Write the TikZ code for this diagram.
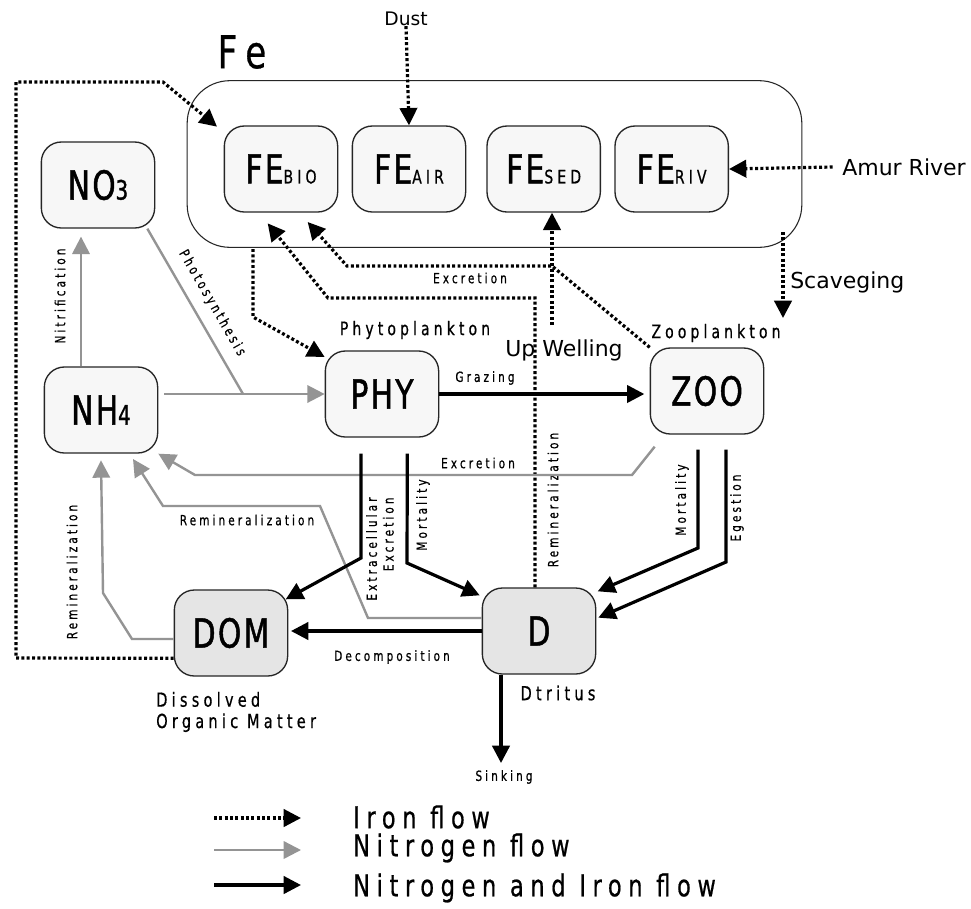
\documentclass[tikz,border=0pt]{standalone}
\usepackage{fontspec}
\setmainfont{DejaVu Sans}
\newfontfamily\labfont[FakeStretch=0.75,LetterSpace=22,FakeBold=0.6]{DejaVu Sans}
\newfontfamily\boxfont[FakeStretch=0.74,LetterSpace=6,FakeBold=1.2]{DejaVu Sans}
\usepackage{tikz}
\usetikzlibrary{arrows.meta, positioning}

\newcommand{\fsz}[2]{\fontsize{#1}{#2}\selectfont}
\newcommand{\fesub}[1]{FE{\labfont\fsz{14}{14}#1}}

\begin{document}
\begin{tikzpicture}[
    x=0.75pt, y=-0.75pt,
    every node/.style={inner sep=0pt},
    box/.style={draw=black!85, line width=1pt, rounded corners=15pt, fill=black!3,
                minimum width=85pt, minimum height=64.5pt, font=\boxfont\fsz{30}{30}},
    darkbox/.style={box, fill=black!10},
    lab/.style={font=\labfont\fsz{10.5}{12.5}},
    mid/.style={font=\labfont\fsz{14}{16}},
    leg/.style={font=\labfont\fsz{22.5}{26}, anchor=west},
    fe/.style={line width=2.4pt, dash pattern=on 2.2pt off 1.8pt, -{Triangle[length=13pt,width=13pt]}},
    ni/.style={draw=black!42, line width=1.8pt, -{Triangle[length=13pt,width=13pt]}},
    nf/.style={line width=2.4pt, -{Triangle[length=13pt,width=13pt]}}
]
\path[use as bounding box, fill=white] (0,0) rectangle (971,908);

% Iron pool
\node[draw=black!85, line width=0.8pt, rounded corners=32pt, minimum width=461pt, minimum height=125pt] (pool) at (494.5,164) {};
\node[font=\labfont\fsz{34}{34}] (felab) at (242,52) {Fe};
\node[box] (febio) at (281,169) {\fesub{BIO}};
\node[box, right=10pt of febio] (feair) {\fesub{AIR}};
\node[box, right=15pt of feair] (fesed) {\fesub{SED}};
\node[box, right=10pt of fesed] (feriv) {\fesub{RIV}};

% Nutrients and plankton
\node[box] (no3) at (98,185) {NO{\fsz{20}{20}3}};
\node[box] (nh4) at (101,410) {NH{\fsz{20}{20}4}};
\node[box] (phy) at (382,394) {PHY};
\node[box] (zoo) at (707,391) {ZOO};
\node[darkbox] (dom) at (231,633) {DOM};
\node[darkbox] (d) at (539,631) {D};

% Outer labels
\node[font=\fsz{14}{14}] (dust) at (406,19) {Dust};
\node[font=\fsz{16.5}{16.5}, anchor=west] (amur) at (842,167) {Amur River};
\node[font=\fsz{16.5}{16.5}, anchor=west] (scav) at (790,282) {Scaveging};
\node[font=\fsz{16.5}{16.5}] (upwlab) at (564,350) {Up Welling};
\node[mid] (phylab) at (415,330) {Phytoplankton};
\node[mid] (zoolab) at (716,333) {Zooplankton};
\node[font=\labfont\fsz{14.5}{16}, anchor=west, align=left] (domlab) at (156,712) {Dissolved\\Organic Matter};
\node[font=\labfont\fsz{14.5}{16}] (dlab) at (558,693) {Dtritus};

% Flow labels
\node[lab] (grazing) at (485,378) {Grazing};
\node[lab, rotate=90] (nitrif) at (60,296) {Nitrification};
\node[lab, rotate=-60] (photo) at (212,303) {Photosynthesis};
\node[lab] (exfe) at (470,278) {Excretion};
\node[lab, rotate=90] (reminfe) at (553,500) {Remineralization};
\node[lab] (exnh) at (478,463) {Excretion};
\node[lab] (remind) at (247,520) {Remineralization};
\node[lab, rotate=90] (remindom) at (72,572) {Remineralization};
\node[lab, rotate=90, align=right] (extra) at (380,549) {Extracellular\\Excretion};
\node[lab, rotate=90] (mortp) at (423,515) {Mortality};
\node[lab, rotate=90] (mortz) at (682,500) {Mortality};
\node[lab, rotate=90] (eges) at (737,508) {Egestion};
\node[lab] (decomp) at (392,657) {Decomposition};
\node[lab] (sinking) at (504,777) {Sinking};

% Free ends
\coordinate (scavtop) at (783,232);
\coordinate (scavend) at (783,318);
\coordinate (upw) at (552,325);
\coordinate (uptake) at (253,249);
\coordinate (photojoin) at (243,394);
\coordinate (sinkend) at (501,763);

% Iron flow
\draw[fe] (dust.south) -- (feair.north);
\draw[fe] ([xshift=-7pt]amur.west) -- (feriv.east);
\draw[fe] (scavtop) -- (scavend);
\draw[fe] (upw) -- (upw |- fesed.south);
\draw[fe] (uptake) -- (253,317) -- ([yshift=-5pt]phy.north west);
\draw[fe] (zoo.north west) -- (552,266) -- (347,266) -- ([xshift=20pt,yshift=-7pt]febio.south);
\draw[fe] ([xshift=-3pt]d.north) -- (535,298) -- (328,298) -- ([xshift=-10pt,yshift=-8pt]febio.south);
\draw[fe] ([yshift=-19pt]dom.west) -- (16,658) -- (16,82) -- (163,82) -- ([xshift=-5pt,yshift=-1pt]febio.north west);

% Nitrogen flow
\draw[ni] ([xshift=-15pt]nh4.north) -- ([xshift=-12.75pt,yshift=-6pt]no3.south);
\draw[ni] ([xshift=4.5pt]nh4.east |- phy.west) -- (phy.west);
\draw[draw=black!42, line width=1.8pt] ([xshift=-6pt]no3.south east) -- (photojoin);
\draw[ni] ([xshift=3.75pt,yshift=-9pt]zoo.south west) -- (632,475) -- (195,475) -- (nh4.south east);
\draw[ni] ([yshift=9.75pt]d.west) -- (368,618) -- (320,506) -- (163,506) -- ([xshift=-19pt,yshift=-4pt]nh4.south east);
\draw[ni] ([yshift=-4.5pt]dom.west) -- (132,639) -- (103,593) -- ([yshift=-5pt]nh4.south);

% Nitrogen and iron flow
\draw[nf] (phy.east) -- ([xshift=-4pt]phy.east -| zoo.west);
\draw[nf] ([xshift=-15.75pt,yshift=-12pt]phy.south) -- (361,558) -- ([xshift=-2pt,yshift=-7.5pt]dom.north east);
\draw[nf] ([xshift=19pt,yshift=-12pt]phy.south) -- (407,563) -- ([xshift=-1.5pt,yshift=-6pt]d.north west);
\draw[nf] ([xshift=-6.75pt,yshift=-11.25pt]zoo.south) -- (698,548) -- ([xshift=1pt,yshift=-3pt]d.north east);
\draw[nf] ([xshift=14.25pt,yshift=-11.25pt]zoo.south) -- (726,562) -- ([xshift=1.5pt,yshift=10pt]d.east);
\draw[nf] (d.west) -- ([xshift=2pt]d.west -| dom.east);
\draw[nf] ([xshift=-28.5pt]d.south) -- (sinkend);

% Legend
\node[leg] (leg1) at (353,817) {Iron flow};
\node[leg] (leg2) at (353,848) {Nitrogen flow};
\node[leg] (leg3) at (353,888) {Nitrogen and Iron flow};
\coordinate (lg1s) at (214,818);
\coordinate (lg2s) at (214,850);
\coordinate (lg3s) at (214,885);
\draw[fe] (lg1s) -- ++(87,0);
\draw[ni] (lg2s) -- ++(87,0);
\draw[nf] (lg3s) -- ++(87,0);

\end{tikzpicture}
\end{document}
